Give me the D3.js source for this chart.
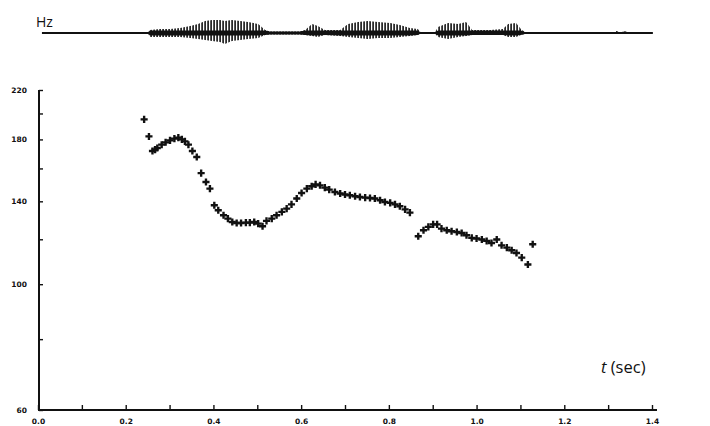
<!DOCTYPE html>
<html><head><meta charset="utf-8">
<script src="https://cdn.jsdelivr.net/npm/d3@7"></script>
<style>body{margin:0;background:#fff}svg{display:block}</style>
</head><body>
<svg id="c" width="710" height="426"></svg>
<script>
// Pitch track (F0) samples: time (s) and frequency (Hz)
const timeS = [0.242,0.253,0.261,0.267,0.272,0.282,0.291,0.301,0.311,0.320,0.328,0.335,0.343,0.352,0.362,0.372,0.383,0.392,0.402,0.411,0.423,0.433,0.443,0.453,0.463,0.474,0.483,0.493,0.502,0.512,0.521,0.533,0.544,0.556,0.567,0.578,0.590,0.601,0.613,0.624,0.633,0.643,0.654,0.664,0.677,0.689,0.700,0.711,0.723,0.734,0.746,0.757,0.768,0.780,0.791,0.803,0.814,0.825,0.837,0.848,
  0.867,0.879,0.890,0.901,0.910,0.920,0.932,0.943,0.955,0.966,0.977,0.989,1.000,1.012,1.023,1.034,1.046,1.057,1.069,1.080,1.091,1.103,1.117,1.128];
const f0Hz = [195.3,182.2,171.7,172.7,173.8,176.2,177.9,179.3,180.6,181.3,180.0,178.6,176.2,171.7,167.6,157.0,151.4,147.4,137.8,135.0,132.3,130.5,128.7,128.2,128.2,128.4,128.4,128.7,127.9,126.5,129.3,130.5,132.3,134.1,135.9,138.3,141.6,144.8,147.4,148.8,150.0,149.4,148.0,146.8,145.4,144.5,143.9,143.5,142.9,142.5,142.1,141.9,141.6,140.6,139.6,139.1,138.3,137.2,135.5,133.7,
  121.5,124.5,126.2,127.5,127.5,125.3,124.5,124.0,123.6,123.1,122.0,120.7,120.4,119.9,119.2,118.2,119.9,117.1,116.0,114.8,113.5,111.4,108.3,117.6];

// Waveform envelope (time s, upper and lower amplitude, arbitrary units)
const waveT    = [0.009,0.251,0.255,0.278,0.301,0.324,0.347,0.365,0.381,0.397,0.415,0.426,0.442,0.461,0.479,0.502,0.518,0.529,0.597,0.609,0.625,0.638,0.654,0.689,0.707,0.730,0.752,0.775,0.803,0.825,0.848,0.866,0.873,0.905,0.912,0.935,0.958,0.976,0.990,1.031,1.060,1.072,1.090,1.101,1.110,1.122,1.316,1.320,1.325,1.338,1.350,1.402];
const waveUp   = [0,0.5,3,4,4,5,7,9,12,13,13,12,13,12,11,9,3,1.5,1.5,3,9,7,3,3,9,11,12,11,10,8,5,4,0.5,0.5,6,10,9,11,3,3,4,9,10,4,1,0.5,0.5,2,0.5,1.5,0.5,0];
const waveDown = [0,0.5,4,4,4,4,5,6,7,8,9,11,8,7,6,5,2,1.5,1.5,2,3,4,2,3,4,5,6,5,5,4,3,2,0.5,0.5,4,6,4,3,2,2,2,4,4,2,1,0.5,0.5,0.5,0.5,0.5,0.5,0];

// Axis ticks and labels
const xTicks  = [0,0.1,0.2,0.3,0.4,0.5,0.6,0.7,0.8,0.9,1.0,1.1,1.2,1.3,1.4];
const xLabels = [0,0.2,0.4,0.6,0.8,1.0,1.2,1.4];
const yTicks  = [60,80,100,120,140,160,180,200,220];
const yLabels = [60,100,140,180,220];

const ink = "#111";
const svg = d3.select("#c");

const x = d3.scaleLinear().domain([0,1.4]).range([38,652]);
const y = d3.scaleLog().domain([60,220]).range([410,90]);
const yw = d3.scaleLinear().domain([-15,15]).range([48,18]);

// ---- waveform ----
const defs = svg.append("defs");
const pat = defs.append("pattern").attr("id","stripes").attr("patternUnits","userSpaceOnUse")
  .attr("width",3).attr("height",40);
pat.append("rect").attr("x",0.3).attr("y",0).attr("width",1.6).attr("height",40).attr("fill",ink);

const wave = waveT.map((t,i)=>({t, up:waveUp[i], dn:waveDown[i]}));
svg.append("path").datum(wave)
  .attr("d", d3.area().x(d=>x(d.t)).y0(d=>yw(-d.dn)).y1(d=>yw(d.up)).curve(d3.curveLinear))
  .attr("fill","url(#stripes)");
svg.append("path").datum(wave)
  .attr("d", d3.area().x(d=>x(d.t)).y0(d=>yw(-Math.min(d.dn,2.5))).y1(d=>yw(Math.min(d.up,2.5))))
  .attr("fill",ink);
svg.append("line").attr("x1",x(waveT[0])).attr("x2",x(waveT[waveT.length-1]))
  .attr("y1",yw(0)).attr("y2",yw(0)).attr("stroke",ink).attr("stroke-width",2);

svg.append("text").attr("x",36).attr("y",27).text("Hz")
  .attr("font-family","Open Sans, Liberation Sans, sans-serif").attr("font-size",14).attr("fill",ink);

// ---- axes ----
const fmtX = d => xLabels.some(v=>Math.abs(v-d)<1e-9) ? d3.format(".1f")(d) : "";
const gx = svg.append("g").attr("transform","translate(0,410)")
  .call(d3.axisBottom(x).tickValues(xTicks).tickSize(-5).tickSizeOuter(0).tickPadding(9).tickFormat(fmtX));
const gy = svg.append("g").attr("transform","translate(39,0)")
  .call(d3.axisLeft(y).tickValues(yTicks).tickSize(-4).tickSizeOuter(0).tickPadding(12)
    .tickFormat(d => yLabels.includes(d) ? String(d) : ""));
[gx,gy].forEach(g=>{
  g.select(".domain").remove();
  g.selectAll(".tick line").attr("stroke",ink).attr("stroke-width",1.4);
  g.selectAll("text").attr("fill",ink).attr("font-family","DejaVu Sans, sans-serif")
    .attr("font-size",7.5).attr("font-weight","bold");
});
svg.append("line").attr("x1",38).attr("x2",657).attr("y1",410).attr("y2",410).attr("stroke",ink).attr("stroke-width",2);
svg.append("line").attr("x1",39).attr("x2",39).attr("y1",90).attr("y2",411).attr("stroke",ink).attr("stroke-width",2);

const tl = svg.append("text").attr("x",601).attr("y",373)
  .attr("font-family","Open Sans, Liberation Sans, sans-serif").attr("font-size",16.5).attr("fill",ink);
tl.append("tspan").attr("font-style","italic").text("t");
tl.append("tspan").text(" (sec)");

// ---- pitch points ----
const pts = timeS.map((t,i)=>({t, f:f0Hz[i]}));
const sym = d3.symbol().type(d3.symbolCross).size(28);
svg.append("g").selectAll("path").data(pts).join("path")
  .attr("transform", d=>`translate(${x(d.t)},${y(d.f)})`)
  .attr("d", sym).attr("fill", ink);
</script>
</body></html>
